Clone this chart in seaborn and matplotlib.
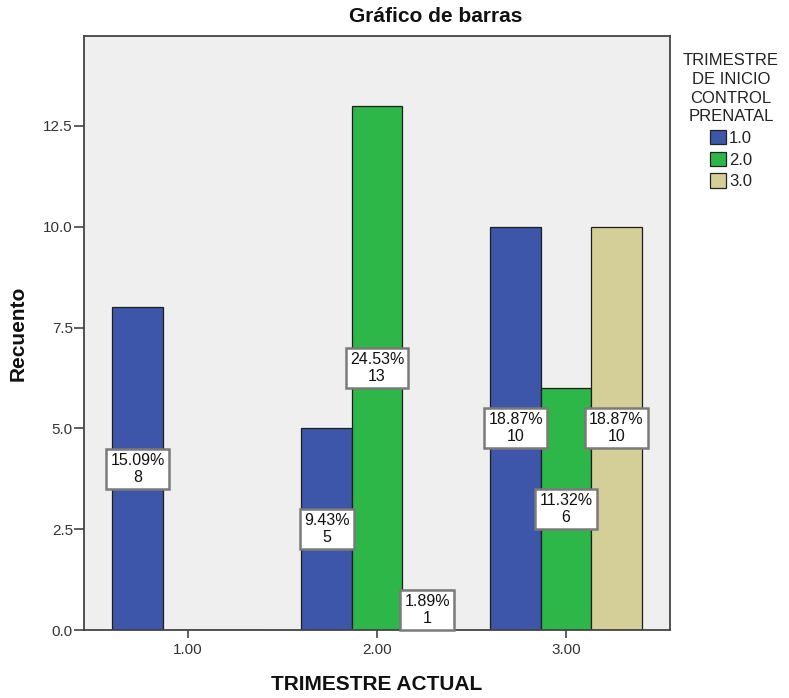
import matplotlib
matplotlib.use("Agg")
import matplotlib.pyplot as plt
import seaborn as sns
import pandas as pd

# Counts by current trimester (x) and trimester of prenatal-care start (hue)
trimestre_actual = ["1.00", "2.00", "3.00"]
inicio_levels = ["1.0", "2.0", "3.0"]
recuento_inicio_1 = [8, 5, 10]
recuento_inicio_2 = [0, 13, 6]
recuento_inicio_3 = [0, 1, 10]
y_ticks = [0.0, 2.5, 5.0, 7.5, 10.0, 12.5]

colors = {"1.0": "#3D56AA", "2.0": "#2DB748", "3.0": "#D4CF98"}

rows = []
for level, counts in zip(inicio_levels, [recuento_inicio_1, recuento_inicio_2, recuento_inicio_3]):
    for cat, n in zip(trimestre_actual, counts):
        rows.append({"TRIMESTRE ACTUAL": cat, "INICIO": level, "Recuento": n})
df = pd.DataFrame(rows)
total = df["Recuento"].sum()

sns.set_theme(style="white")
plt.rcParams["font.family"] = ["Liberation Sans", "DejaVu Sans"]

fig = plt.figure(figsize=(7.89, 6.98), dpi=100)
fig.patch.set_facecolor("white")
ax = fig.add_axes([84 / 789, 68 / 698, 586 / 789, 594 / 698])
ax.set_facecolor("#EFEFEF")

sns.barplot(data=df, x="TRIMESTRE ACTUAL", y="Recuento", hue="INICIO",
            order=trimestre_actual, hue_order=inicio_levels, palette=colors,
            width=0.8, edgecolor="#1E1E1E", linewidth=0.9, ax=ax,
            errorbar=None, saturation=1)

# Percent-of-total and count labels centred on each non-empty bar
for container, level in zip(ax.containers, inicio_levels):
    sub = df[df["INICIO"] == level].set_index("TRIMESTRE ACTUAL").loc[trimestre_actual, "Recuento"]
    labels = [f"{n / total * 100:.2f}%\n{n}" if n > 0 else "" for n in sub]
    ax.bar_label(container, labels=labels, label_type="center", fontsize=11.5,
                 color="#111111", linespacing=1.15,
                 bbox=dict(boxstyle="square,pad=0.26", facecolor="white",
                           edgecolor="#7A7A7A", linewidth=1.8))

ax.set_xlim(-0.55, 2.55)
ax.set_ylim(0, 14.73)
ax.set_yticks(y_ticks)
ax.set_yticklabels([f"{v:.1f}" for v in y_ticks])

for side in ["left", "bottom", "top", "right"]:
    ax.spines[side].set_visible(True)
    ax.spines[side].set_color("#444444")
    ax.spines[side].set_linewidth(1.3)

ax.tick_params(axis="y", direction="out", length=7, width=1.2, color="#444444",
               labelsize=11, labelcolor="#333333", pad=1, left=True)
ax.tick_params(axis="x", direction="out", length=6, width=1.2, color="#444444",
               labelsize=11, labelcolor="#333333", pad=3, bottom=True)

ax.set_xlabel("TRIMESTRE ACTUAL", fontsize=15, fontweight="bold", color="#111111")
ax.set_ylabel("Recuento", fontsize=15, fontweight="bold", color="#111111")
ax.xaxis.set_label_coords(0.5, (630 - 684) / 594)
ax.yaxis.set_label_coords((18 - 84) / 586, 0.5)
ax.xaxis.label.set_va("center")
ax.yaxis.label.set_va("center")
fig.text(436 / 789, 1 - 17 / 698, "Gráfico de barras", fontsize=15,
         fontweight="bold", ha="center", va="center", color="#111111")

handles, labels = ax.get_legend_handles_labels()
ax.legend_.remove()
leg = fig.legend(handles, labels, title="TRIMESTRE\nDE INICIO\nCONTROL\nPRENATAL",
                 loc="upper center", bbox_to_anchor=(731 / 789, 1 - 45 / 698),
                 frameon=False, fontsize=12, title_fontsize=12,
                 handlelength=0.95, handleheight=0.95, handletextpad=0.2,
                 labelspacing=0.35, alignment="center", borderpad=0)
leg.get_title().set_multialignment("center")
leg.get_title().set_linespacing(1.3)
leg.get_title().set_color("#222222")
for t in leg.get_texts():
    t.set_color("#222222")
for h in leg.legend_handles:
    h.set_edgecolor("#222222")
    h.set_linewidth(0.9)

fig.savefig("out.png", dpi=100, facecolor="white")
